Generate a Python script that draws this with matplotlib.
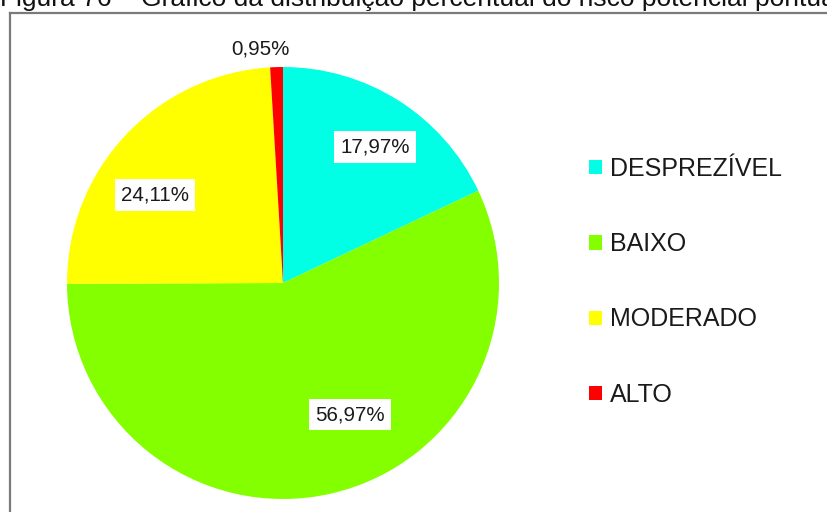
import numpy as np
import matplotlib.pyplot as plt
from matplotlib.lines import Line2D
from matplotlib.patches import Patch

plt.rcParams['font.family'] = ['Liberation Sans', 'DejaVu Sans']

# Risk classes and their share (%)
categories = ['DESPREZÍVEL', 'BAIXO', 'MODERADO', 'ALTO']
shares = [17.97, 56.97, 24.11, 0.95]
colors = ['#00FFE4', '#84FF00', '#FFFF00', '#FF0000']

# label placement as (angle in degrees, radius as fraction of pie radius)
label_pos = [(56, 0.76), (-63, 0.685), (145.5, 0.72), (95.5, 1.09)]

W, H = 827, 512
fig = plt.figure(figsize=(W / 100, H / 100), dpi=100)

# pie centred at (283, 283) px with radius 216 px
cx, cy, r = 283, 283, 216
ax = fig.add_axes([(cx - r) / W, (H - cy - r) / H, 2 * r / W, 2 * r / H])
wedges, _ = ax.pie(shares, colors=colors, startangle=90, counterclock=False,
                   radius=1.0, wedgeprops=dict(linewidth=0))
ax.set_xlim(-1, 1)
ax.set_ylim(-1, 1)
ax.set_aspect('equal')
ax.axis('off')

for val, (ang, rad) in zip(shares, label_pos):
    txt = ('%.2f%%' % val).replace('.', ',')
    x = rad * np.cos(np.radians(ang))
    y = rad * np.sin(np.radians(ang))
    box = None
    if rad < 1:
        box = dict(boxstyle='square,pad=0.3', fc='white', ec='none')
    ax.text(x, y, txt, ha='center', va='center', fontsize=14.8,
            color='#1a1a1a', bbox=box, clip_on=False)

handles = [Patch(facecolor=c, edgecolor='none') for c in colors]
fig.legend(handles, categories, loc='upper left',
           bbox_to_anchor=(589 / W, 1 - 157 / H), frameon=False,
           fontsize=18, handlelength=0.5, handleheight=0.5,
           handletextpad=0.32, labelspacing=2.05, borderaxespad=0,
           borderpad=0, labelcolor='#1a1a1a')

# caption sitting above the frame, cut by the top edge
fig.text(0, 1 - 6 / H,
         'Figura 76 – Gráfico da distribuição percentual do risco potencial pontual',
         fontsize=19, ha='left', va='baseline', color='#111111')

# frame lines (top and left)
fig.add_artist(Line2D([10 / W, 1], [1 - 13 / H, 1 - 13 / H],
                      transform=fig.transFigure, color='#7a7a7a', lw=1.6))
fig.add_artist(Line2D([10 / W, 10 / W], [0, 1 - 13 / H],
                      transform=fig.transFigure, color='#7a7a7a', lw=1.6))

fig.savefig('out.png', dpi=100)
